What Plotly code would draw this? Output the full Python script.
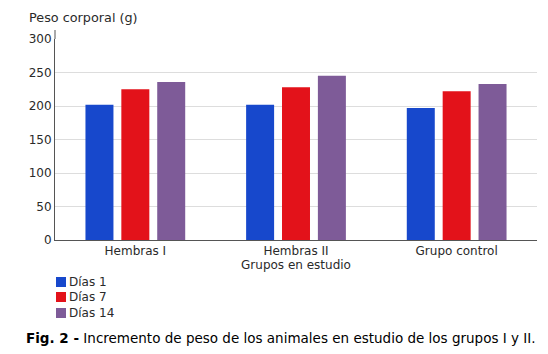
import plotly.graph_objects as go

categories = ["Hembras I", "Hembras II", "Grupo control"]
series_names = ["Días 1", "Días 7", "Días 14"]
dias1 = [202, 202, 197]
dias7 = [225, 228, 222]
dias14 = [236, 245, 233]
colors = ["#1748cc", "#e3121a", "#7e5b98"]
y_ticks = [0, 50, 100, 150, 200, 250, 300]

W, H = 548, 354
ML, MR, MT, MB = 55, 11, 39, 114
PW, PH = W - ML - MR, H - MT - MB

def px(x):
    return (x - ML) / PW

def py(y):
    return (H - MB - y) / PH

font = dict(family="DejaVu Sans, Verdana, sans-serif", size=12, color="#2a2a2a")

fig = go.Figure()
for name, vals, c in zip(series_names, [dias1, dias7, dias14], colors):
    fig.add_trace(go.Bar(x=categories, y=vals, name=name, marker=dict(color=c, line=dict(width=0))))

shapes = [
    dict(type="line", xref="paper", yref="paper", x0=0, x1=0, y0=1, y1=py(30),
         line=dict(color="#555555", width=1)),
]
annotations = [
    dict(text="Peso corporal (g)", xref="paper", yref="paper", x=px(27), y=py(18),
         xanchor="left", yanchor="middle", showarrow=False,
         font=dict(family=font["family"], size=12.8, color="#2a2a2a")),
    dict(text="<b>Fig. 2 -</b> Incremento de peso de los animales en estudio de los grupos I y II.",
         xref="paper", yref="paper", x=px(24), y=py(338), xanchor="left", yanchor="middle",
         showarrow=False, font=dict(family=font["family"], size=13.5, color="#000000")),
]
legend_rows = [282, 297, 313]
for name, c, ry in zip(series_names, colors, legend_rows):
    shapes.append(dict(type="rect", xref="paper", yref="paper",
                       x0=px(56), x1=px(66), y0=py(ry + 5), y1=py(ry - 5),
                       fillcolor=c, line=dict(width=0)))
    annotations.append(dict(text=name, xref="paper", yref="paper", x=px(67), y=py(ry),
                            xanchor="left", yanchor="middle", showarrow=False, font=font))

fig.update_layout(
    width=W, height=H,
    margin=dict(l=ML, r=MR, t=MT, b=MB),
    paper_bgcolor="white", plot_bgcolor="white",
    font=font,
    barmode="group", bargap=0.33, bargroupgap=0.22,
    showlegend=False,
    xaxis=dict(showline=True, linecolor="#555555", linewidth=1, ticks="", showgrid=False,
               tickfont=font,
               title=dict(text="Grupos en estudio", font=font, standoff=2)),
    yaxis=dict(range=[0, 300], tickvals=y_ticks, showline=True, linecolor="#555555", linewidth=1,
               showgrid=True, gridcolor="#dddddd", gridwidth=1, zeroline=False,
               ticks="", tickfont=font),
    shapes=shapes,
    annotations=annotations,
)

fig.write_html("out.html")
